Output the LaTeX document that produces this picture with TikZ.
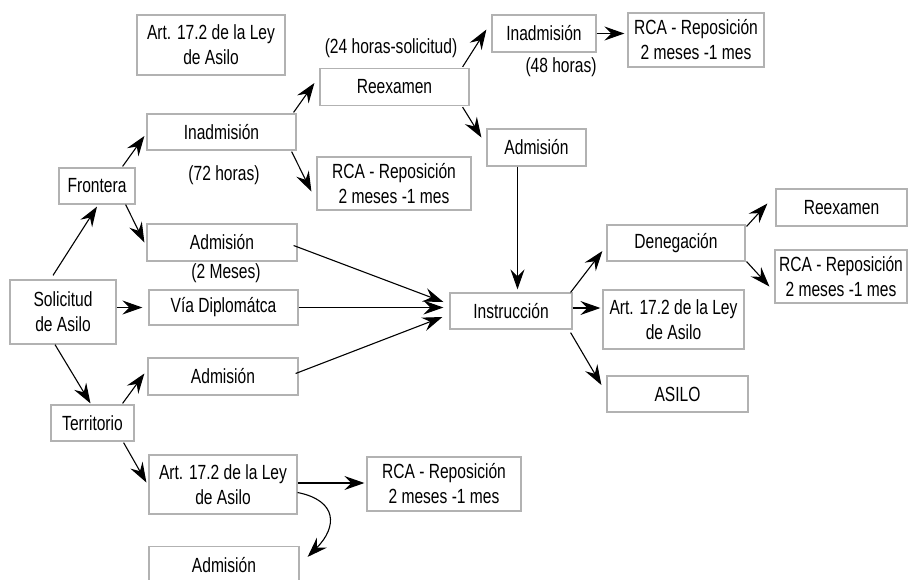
\documentclass[tikz,border=0pt]{standalone}
\usepackage{fontspec}
\setmainfont[FakeStretch=0.76]{Liberation Sans}
\usetikzlibrary{arrows.meta}

\begin{document}
\begin{tikzpicture}[x=1pt, y=-1pt,
  every node/.style={font=\fontsize{20.5}{25}\selectfont},
  box/.style={draw=black!30, line width=1.2pt, inner sep=0pt, align=center},
  arr/.style={-{Stealth[length=20pt,width=14pt,inset=7pt]}, line width=1.1pt}]
\useasboundingbox (0,0) rectangle (908,579);
\clip (0,0) rectangle (908,579);

% boxes
\node[box, minimum width=148pt, minimum height=60pt] (art1) at (211,45) {Art. 17.2 de la Ley\\de Asilo};
\node[box, minimum width=149pt, minimum height=37pt] (reex1) at (394.5,87) {Reexamen};
\node[box, minimum width=104pt, minimum height=37pt] (inad2) at (544,33.5) {Inadmisión};
\node[box, minimum width=136pt, minimum height=54pt] (rca1) at (696,40) {RCA - Reposición\\2 meses -1 mes};
\node[box, minimum width=149pt, minimum height=36pt] (inad1) at (221.5,132) {Inadmisión};
\node[box, minimum width=154pt, minimum height=53pt] (rca2) at (394,183.5) {RCA - Reposición\\2 meses -1 mes};
\node[box, minimum width=76pt, minimum height=36pt] (front) at (97,186) {Frontera};
\node[box, minimum width=150pt, minimum height=37pt] (adm1) at (222,242.5) {Admisión};
\node[box, minimum width=99pt, minimum height=37pt] (adm2) at (536.5,147.5) {Admisión};
\node[box, minimum width=106pt, minimum height=64pt] (sol) at (63,312) {Solicitud\\de Asilo};
\node[box, minimum width=149pt, minimum height=35pt] (via) at (223.5,307.5) {Vía Diplomátca};
\node[box, minimum width=150pt, minimum height=37pt] (adm3) at (223,376.5) {Admisión};
\node[box, minimum width=83pt, minimum height=36pt] (terr) at (92.5,423) {Territorio};
\node[box, minimum width=148pt, minimum height=59pt] (art3) at (223,484.5) {Art. 17.2 de la Ley\\de Asilo};
\node[box, minimum width=154pt, minimum height=54pt] (rca3) at (444,484) {RCA - Reposición\\2 meses -1 mes};
\node[box, minimum width=150pt, minimum height=37pt] (adm4) at (224,565) {Admisión};
\node[box, minimum width=122pt, minimum height=36pt] (instr) at (511,311) {Instrucción};
\node[box, minimum width=138pt, minimum height=36pt] (deneg) at (676,243) {Denegación};
\node[box, minimum width=141pt, minimum height=59pt] (art2) at (673.5,319.5) {Art. 17.2 de la Ley\\de Asilo};
\node[box, minimum width=141pt, minimum height=36pt] (asilo) at (677.5,394) {ASILO};
\node[box, minimum width=131pt, minimum height=37pt] (reex2) at (841.5,207.5) {Reexamen};
\node[box, minimum width=132pt, minimum height=53pt] (rca4) at (841,276.5) {RCA - Reposición\\2 meses -1 mes};

% plazos
\node (lbl24) at (391,48) {(24 horas-solicitud)};
\node (lbl48) at (561,67) {(48 horas)};
\node (lbl72) at (224,175) {(72 horas)};
\node (lbl2m) at (226,273) {(2 Meses)};

% frontera
\draw[arr] ([xshift=-10pt,yshift=4pt]sol.north) -- ([yshift=-2pt]front.south);
\draw[arr] ([xshift=-13pt,yshift=1pt]front.north east) -- ([xshift=-2pt,yshift=-4pt]inad1.west);
\draw[arr] ([xshift=-10pt]front.south east) -- ([xshift=-2pt]adm1.west);
\draw[arr] ([xshift=-3pt,yshift=1pt]inad1.north east) -- ([xshift=-5pt,yshift=4pt]reex1.west);
\draw[arr] ([xshift=-5pt,yshift=-1pt]inad1.south east) -- ([xshift=-5pt,yshift=-8pt]rca2.west);
\draw[arr] ([xshift=-7pt,yshift=1pt]reex1.north east) -- ([xshift=-5pt,yshift=4pt]inad2.west);
\draw[arr] (inad2.east) -- ([xshift=-3pt]inad2.east -| rca1.west);
\draw[arr] ([xshift=-7pt,yshift=-1pt]reex1.south east) -- ([xshift=-5pt,yshift=10pt]adm2.west);
\draw[arr] ([xshift=-19pt]adm2.south) -- ([xshift=-19pt,yshift=3pt]adm2.south |- instr.north);
\draw[arr] ([xshift=-4pt,yshift=-3pt]adm1.east) -- ([xshift=-6pt,yshift=9pt]instr.west);

% via diplomatica
\draw[arr] (via.west -| sol.east) -- ([xshift=-6pt]via.west);
\draw[arr] (via.east) -- ([xshift=-6pt]via.east -| instr.west);

% territorio
\draw[arr] ([xshift=-8pt]sol.south) -- ([xshift=-2pt,yshift=1pt]terr.north);
\draw[arr] ([xshift=-12pt,yshift=1pt]terr.north east) -- ([xshift=-3pt,yshift=3pt]adm3.west);
\draw[arr] ([xshift=-11pt,yshift=-1pt]terr.south east) -- ([xshift=-2pt,yshift=2pt]art3.west);
\draw[arr] ([xshift=-3pt,yshift=3pt]adm3.east) -- ([xshift=-7pt,yshift=-6pt]instr.west);
\draw[arr] ([yshift=1.5pt]art3.east) -- ([xshift=-2pt,yshift=1.5pt]art3.east -| rca3.west);
\draw[arr] ([yshift=-8pt]art3.east) .. controls +(40,8) and +(30,-30) .. ([xshift=8pt,yshift=-11pt]adm4.north east);

% instruccion
\draw[arr] ([xshift=-2pt]instr.north east) -- ([xshift=-4pt,yshift=-8pt]deneg.west);
\draw[arr] ([yshift=3pt]instr.east) -- ([xshift=-2pt,yshift=3pt]instr.east -| art2.west);
\draw[arr] ([xshift=-2pt,yshift=-3pt]instr.south east) -- ([xshift=-5pt,yshift=9pt]asilo.west);
\draw[arr] ([xshift=1pt,yshift=-2pt]deneg.north east) -- ([xshift=-8pt,yshift=4pt]reex2.west);
\draw[arr] ([xshift=1pt]deneg.south east) -- ([xshift=-5pt,yshift=-10pt]rca4.west);
\end{tikzpicture}
\end{document}
